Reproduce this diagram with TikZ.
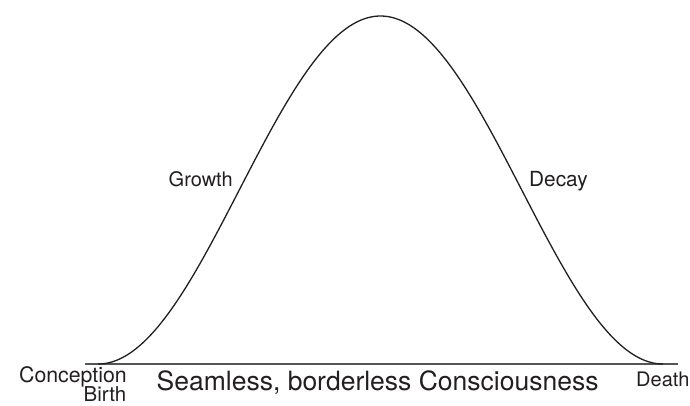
\documentclass[tikz,border=0pt]{standalone}
\usepackage{fontspec}
\setmainfont{TeX Gyre Heros}
\definecolor{ink}{HTML}{231F20}
\definecolor{axisgray}{HTML}{555555}
\tikzset{
  lbl/.style={inner sep=0pt, text=ink, font=\fontsize{21.3}{23}\selectfont},
  biglbl/.style={inner sep=0pt, text=ink, font=\fontsize{26.5}{28}\selectfont},
}
\begin{document}
\begin{tikzpicture}[x=1pt,y=-1pt]
\useasboundingbox[fill=white] (0,0) rectangle (690,405);
\coordinate (axisL) at (85,364);
\coordinate (axisR) at (678,364);
\draw[axisgray, line width=1.5pt] (axisL) -- (axisR);
\draw[ink, line width=1.3pt, line join=round]
  plot[domain=98:663, samples=240, smooth] (\x, {364 - 174*(1+cos(((\x-380.5)/282.5)*180))});
\node[lbl, anchor=base east] (conc) at (127,382.5) {Conception};
\node[lbl, anchor=base east, font=\fontsize{20.5}{22}\selectfont] (birth) at (126.5,401.5) {Birth};
\node[lbl, anchor=base west, font=\fontsize{20}{22}\selectfont] (death) at (636,386) {Death};
\node[biglbl, anchor=base west] (seam) at (156.5,390) {Seamless, borderless Consciousness};
\node[lbl, anchor=base east, font=\fontsize{20}{22}\selectfont] (growth) at (233,186) {Growth};
\node[lbl, anchor=base west, font=\fontsize{20.8}{22}\selectfont] (decay) at (529,186) {Decay};
\end{tikzpicture}
\end{document}
